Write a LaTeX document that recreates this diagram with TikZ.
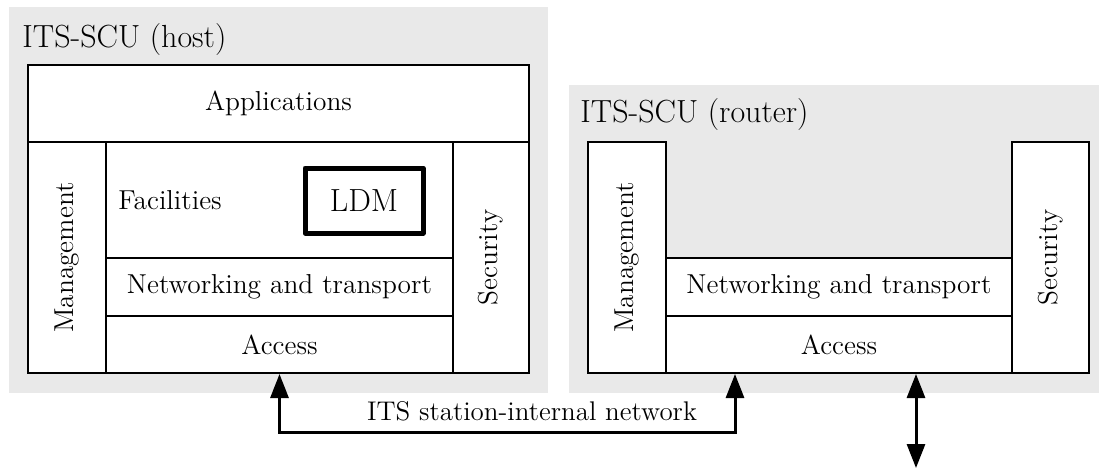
\documentclass[tikz,border=0pt]{standalone}
\usepackage{graphicx}
\usepackage{tikz}
\usetikzlibrary{positioning,calc,arrows.meta}
\definecolor{bggray}{RGB}{233,233,233}
\tikzset{
    unit/.style={fill=bggray, inner sep=0pt},
    title/.style={anchor=west, inner sep=0pt, font=\fontsize{16}{19}\selectfont},
    layer/.style={draw, line width=1pt, fill=white, inner sep=0pt, font=\fontsize{13.7}{16}\selectfont},
    link/.style={line width=1.5pt, {Triangle[width=9pt,length=12pt]}-{Triangle[width=9pt,length=12pt]}},
}

\begin{document}
\begin{tikzpicture}[x=0.5pt, y=-0.5pt]
    \useasboundingbox (0,0) rectangle (1099,468);

    % ITS-SCU (host)
    \node [unit, minimum width=269.5pt, minimum height=193pt] (hostbg) at (278.5,200) {};
    \node [title] (hostname) at (22,40) {ITS-SCU (host)};
    \node [layer, minimum width=250.5pt, minimum height=38.5pt] (app) at (278.5,103.5) {Applications};
    \node [layer, minimum width=39pt, minimum height=115.5pt] (mgmt) at (67,257.5) {\rotatebox{90}{Management}};
    \node [layer, minimum width=38pt, minimum height=115.5pt] (sec) at (491,257.5) {\rotatebox{90}{Security}};
    \node [layer, minimum width=173.5pt, minimum height=58pt] (fac) at (279.5,200) {};
    \node [anchor=west, inner sep=0pt, font=\fontsize{13.7}{16}\selectfont] (facname) at (118,200) {Facilities};
    \node [draw, line width=2.5pt, line join=round, minimum width=59pt, minimum height=32.5pt, font=\fontsize{16}{19}\selectfont] (ldm) at (364,200.5) {LDM};
    \node [layer, minimum width=173.5pt, minimum height=29pt] (nt) at (279.5,287) {Networking and transport};
    \node [layer, minimum width=173.5pt, minimum height=28.5pt] (acc) at (279.5,344.5) {Access};

    % ITS-SCU (router)
    \node [unit, minimum width=265pt, minimum height=154pt] (routerbg) at (834,239) {};
    \node [title] (routername) at (580,115) {ITS-SCU (router)};
    \node [layer, minimum width=39pt, minimum height=115.5pt] (rmgmt) at (627,257.5) {\rotatebox{90}{Management}};
    \node [layer, minimum width=38.5pt, minimum height=115.5pt] (rsec) at (1050.5,257.5) {\rotatebox{90}{Security}};
    \node [layer, minimum width=173pt, minimum height=29pt] (rnt) at (839,287) {Networking and transport};
    \node [layer, minimum width=173pt, minimum height=28.5pt] (racc) at (839,344.5) {Access};

    % internal network
    \coordinate (rbend) at (735,432);
    \coordinate (ext) at (916,468);
    \draw [link] (acc.south) -- (acc.south |- rbend) -- (rbend) -- (rbend |- racc.south);
    \node [inner sep=0pt, font=\fontsize{13.5}{16}\selectfont] (netname) at (532,411) {ITS station-internal network};
    \draw [link] (racc.south -| ext) -- (ext);
\end{tikzpicture}
\end{document}
